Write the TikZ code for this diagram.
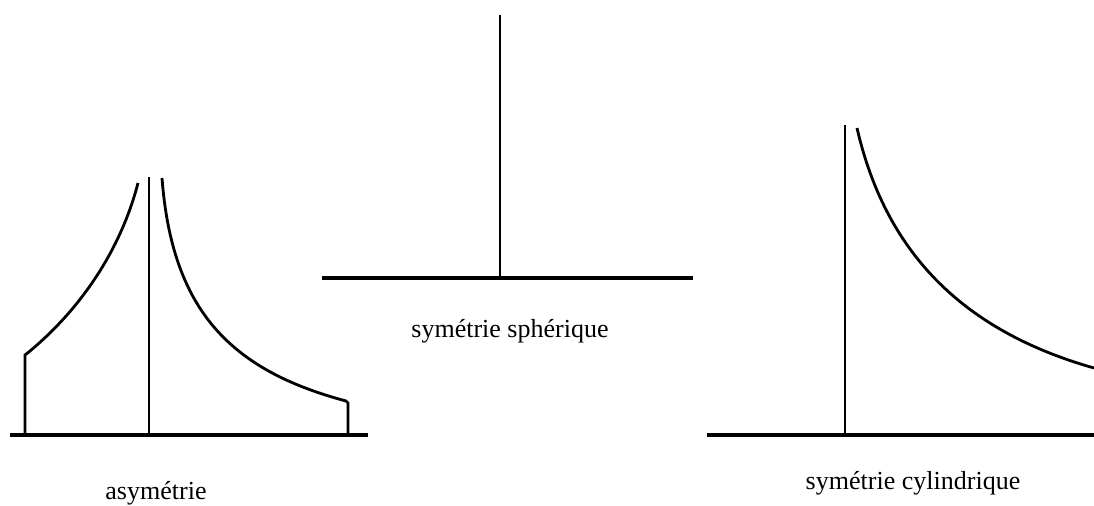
\documentclass[tikz,border=0pt]{standalone}
\usepackage{fontspec}
\setmainfont{Liberation Serif}
\usetikzlibrary{positioning}

\begin{document}
\begin{tikzpicture}
    [
      x=0.025cm, y=-0.025cm,
      axis/.style = {line width=2.4pt},
      trace/.style = {line width=2pt},
      every node/.style = {font=\fontsize{18.5}{21}\selectfont, inner sep=0pt}
    ]
    \useasboundingbox (0,0) rectangle (1094,506);

    % asymetrie
    \coordinate (al) at (10,435);
    \coordinate (ar) at (368,435);
    \coordinate (ac) at (149,435);
    \coordinate (at) at (149,177);
    \draw[axis] (al) -- (ar);
    \draw[trace] (ac) -- (at);
    \draw[trace] (25,435) -- (25,355) -- (30,351)
      .. controls (85,305) and (122,245) .. (138,183);
    \draw[trace] (162,178) .. controls (172,310) and (230,370) .. (346,401)
      -- (348,403) -- (348,435);
    \node(asym) at (156,493) {asymétrie};

    % symetrie spherique
    \coordinate (sl) at (322,278);
    \coordinate (sr) at (693,278);
    \coordinate (sc) at (500,278);
    \coordinate (st) at (500,15);
    \draw[axis] (sl) -- (sr);
    \draw[trace] (sc) -- (st);
    \node(sphe) at (510,331) {symétrie sphérique};

    % symetrie cylindrique
    \coordinate (cl) at (707,435);
    \coordinate (cr) at (1094,435);
    \coordinate (cc) at (845,435);
    \coordinate (ct) at (845,125);
    \draw[axis] (cl) -- (cr);
    \draw[trace] (cc) -- (ct);
    \draw[trace] (857,128) .. controls (885,250) and (960,330) .. (1094,368);
    \node(cyl) at (913,483) {symétrie cylindrique};
\end{tikzpicture}
\end{document}
